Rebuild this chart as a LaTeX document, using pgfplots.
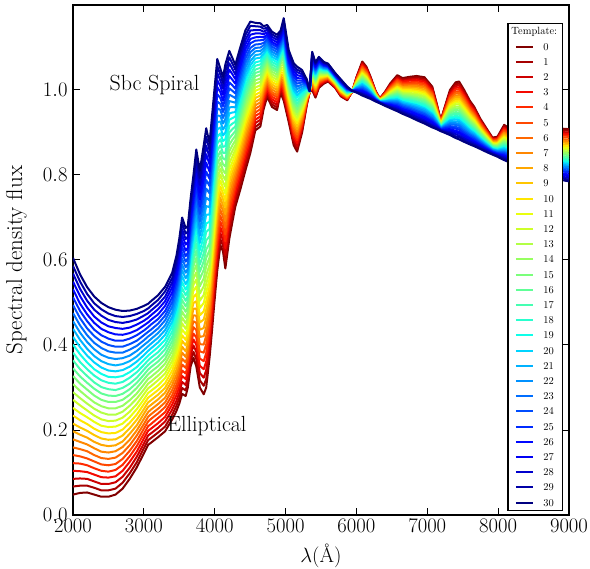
\documentclass[border=0pt]{standalone}
\usepackage{pgfplots}
\usepackage{pgfplotstable}
\pgfplotsset{compat=1.18}

% jet colours, template 0 (dark red) to 30 (dark blue)
\definecolor{c0}{rgb}{0.500,0,0}
\definecolor{c1}{rgb}{0.652,0,0}
\definecolor{c2}{rgb}{0.803,0,0}
\definecolor{c3}{rgb}{0.955,0.037,0}
\definecolor{c4}{rgb}{1,0.160,0}
\definecolor{c5}{rgb}{1,0.284,0}
\definecolor{c6}{rgb}{1,0.407,0}
\definecolor{c7}{rgb}{1,0.531,0}
\definecolor{c8}{rgb}{1,0.654,0}
\definecolor{c9}{rgb}{1,0.778,0}
\definecolor{c10}{rgb}{1,0.901,0}
\definecolor{c11}{rgb}{0.914,1,0.054}
\definecolor{c12}{rgb}{0.806,1,0.161}
\definecolor{c13}{rgb}{0.699,1,0.269}
\definecolor{c14}{rgb}{0.591,1,0.376}
\definecolor{c15}{rgb}{0.484,1,0.484}
\definecolor{c16}{rgb}{0.376,1,0.591}
\definecolor{c17}{rgb}{0.269,1,0.699}
\definecolor{c18}{rgb}{0.161,1,0.806}
\definecolor{c19}{rgb}{0.054,1,0.914}
\definecolor{c20}{rgb}{0,0.833,1}
\definecolor{c21}{rgb}{0,0.700,1}
\definecolor{c22}{rgb}{0,0.567,1}
\definecolor{c23}{rgb}{0,0.433,1}
\definecolor{c24}{rgb}{0,0.300,1}
\definecolor{c25}{rgb}{0,0.167,1}
\definecolor{c26}{rgb}{0,0.033,1}
\definecolor{c27}{rgb}{0,0,0.955}
\definecolor{c28}{rgb}{0,0,0.803}
\definecolor{c29}{rgb}{0,0,0.652}
\definecolor{c30}{rgb}{0,0,0.500}

\pgfplotstableread{
x t0 t1 t2 t3 t4 t5 t6 t7 t8 t9 t10 t11 t12 t13 t14 t15 t16 t17 t18 t19 t20 t21 t22 t23 t24 t25 t26 t27 t28 t29 t30
2000 0.048 0.067 0.085 0.104 0.122 0.141 0.159 0.178 0.197 0.215 0.234 0.252 0.271 0.289 0.308 0.327 0.345 0.364 0.382 0.401 0.419 0.438 0.456 0.475 0.494 0.512 0.531 0.549 0.568 0.586 0.605
2100 0.052 0.069 0.086 0.103 0.121 0.138 0.155 0.172 0.189 0.206 0.223 0.240 0.258 0.275 0.292 0.309 0.326 0.343 0.360 0.378 0.395 0.412 0.429 0.446 0.463 0.480 0.497 0.515 0.532 0.549 0.566
2200 0.053 0.069 0.085 0.101 0.117 0.133 0.150 0.166 0.182 0.198 0.214 0.230 0.246 0.262 0.278 0.295 0.311 0.327 0.343 0.359 0.375 0.391 0.407 0.423 0.439 0.456 0.472 0.488 0.504 0.520 0.536
2300 0.048 0.064 0.079 0.095 0.110 0.126 0.141 0.157 0.172 0.188 0.203 0.219 0.234 0.250 0.265 0.281 0.297 0.312 0.328 0.343 0.359 0.374 0.390 0.405 0.421 0.436 0.452 0.467 0.483 0.498 0.514
2400 0.043 0.058 0.073 0.089 0.104 0.119 0.134 0.149 0.165 0.180 0.195 0.210 0.225 0.241 0.256 0.271 0.286 0.301 0.317 0.332 0.347 0.362 0.377 0.393 0.408 0.423 0.438 0.453 0.469 0.484 0.499
2500 0.043 0.058 0.073 0.088 0.102 0.117 0.132 0.147 0.162 0.177 0.192 0.207 0.221 0.236 0.251 0.266 0.281 0.296 0.311 0.325 0.340 0.355 0.370 0.385 0.400 0.415 0.430 0.444 0.459 0.474 0.489
2600 0.048 0.062 0.077 0.091 0.106 0.120 0.135 0.150 0.164 0.178 0.193 0.208 0.222 0.236 0.251 0.266 0.280 0.294 0.309 0.324 0.338 0.352 0.367 0.382 0.396 0.410 0.425 0.440 0.454 0.468 0.483
2700 0.062 0.076 0.090 0.104 0.118 0.132 0.146 0.160 0.173 0.187 0.201 0.215 0.229 0.243 0.257 0.271 0.285 0.299 0.313 0.327 0.341 0.355 0.369 0.382 0.396 0.410 0.424 0.438 0.452 0.466 0.480
2800 0.085 0.098 0.111 0.125 0.138 0.151 0.164 0.177 0.191 0.204 0.217 0.230 0.243 0.257 0.270 0.283 0.296 0.309 0.323 0.336 0.349 0.362 0.375 0.389 0.402 0.415 0.428 0.441 0.455 0.468 0.481
2900 0.112 0.124 0.137 0.149 0.162 0.174 0.187 0.199 0.211 0.224 0.236 0.249 0.261 0.274 0.286 0.299 0.311 0.323 0.336 0.348 0.361 0.373 0.386 0.398 0.410 0.423 0.435 0.448 0.460 0.473 0.485
3000 0.145 0.157 0.168 0.180 0.191 0.203 0.214 0.226 0.238 0.249 0.261 0.272 0.284 0.295 0.307 0.319 0.330 0.342 0.353 0.365 0.376 0.388 0.400 0.411 0.423 0.434 0.446 0.457 0.469 0.480 0.492
3060 0.165 0.176 0.187 0.198 0.209 0.220 0.231 0.242 0.254 0.265 0.276 0.287 0.298 0.309 0.320 0.331 0.342 0.353 0.364 0.375 0.386 0.397 0.408 0.420 0.431 0.442 0.453 0.464 0.475 0.486 0.497
3100 0.170 0.181 0.192 0.203 0.214 0.226 0.237 0.248 0.259 0.270 0.281 0.292 0.303 0.314 0.325 0.337 0.348 0.359 0.370 0.381 0.392 0.403 0.414 0.425 0.436 0.448 0.459 0.470 0.481 0.492 0.503
3200 0.183 0.194 0.205 0.216 0.228 0.239 0.250 0.261 0.272 0.283 0.294 0.305 0.317 0.328 0.339 0.350 0.361 0.372 0.383 0.395 0.406 0.417 0.428 0.439 0.450 0.461 0.472 0.484 0.495 0.506 0.517
3300 0.197 0.208 0.220 0.231 0.242 0.254 0.265 0.276 0.288 0.299 0.310 0.322 0.333 0.344 0.356 0.367 0.378 0.390 0.401 0.412 0.424 0.435 0.446 0.458 0.469 0.480 0.492 0.503 0.514 0.526 0.537
3400 0.225 0.236 0.248 0.260 0.271 0.282 0.294 0.306 0.317 0.328 0.340 0.352 0.363 0.374 0.386 0.398 0.409 0.420 0.432 0.444 0.455 0.466 0.478 0.490 0.501 0.512 0.524 0.536 0.547 0.558 0.570
3460 0.245 0.257 0.269 0.282 0.294 0.306 0.318 0.330 0.342 0.355 0.367 0.379 0.391 0.403 0.415 0.428 0.440 0.452 0.464 0.476 0.488 0.501 0.513 0.525 0.537 0.549 0.561 0.574 0.586 0.598 0.610
3500 0.262 0.275 0.288 0.301 0.314 0.327 0.340 0.353 0.365 0.378 0.391 0.404 0.417 0.430 0.443 0.456 0.469 0.482 0.495 0.508 0.521 0.534 0.547 0.559 0.572 0.585 0.598 0.611 0.624 0.637 0.650
3540 0.285 0.299 0.313 0.327 0.340 0.354 0.368 0.382 0.396 0.410 0.423 0.437 0.451 0.465 0.479 0.493 0.506 0.520 0.534 0.548 0.562 0.576 0.589 0.603 0.617 0.631 0.645 0.659 0.672 0.686 0.700
3590 0.280 0.293 0.306 0.320 0.333 0.346 0.359 0.372 0.385 0.399 0.412 0.425 0.438 0.451 0.464 0.478 0.491 0.504 0.517 0.530 0.543 0.557 0.570 0.583 0.596 0.609 0.622 0.636 0.649 0.662 0.675
3620 0.300 0.313 0.325 0.338 0.351 0.363 0.376 0.389 0.401 0.414 0.427 0.439 0.452 0.465 0.477 0.490 0.503 0.515 0.528 0.541 0.553 0.566 0.579 0.591 0.604 0.617 0.629 0.642 0.655 0.667 0.680
3660 0.350 0.363 0.376 0.390 0.403 0.416 0.429 0.442 0.455 0.469 0.482 0.495 0.508 0.521 0.534 0.548 0.561 0.574 0.587 0.600 0.613 0.627 0.640 0.653 0.666 0.679 0.692 0.706 0.719 0.732 0.745
3700 0.370 0.384 0.399 0.413 0.427 0.442 0.456 0.470 0.485 0.499 0.513 0.528 0.542 0.556 0.571 0.585 0.599 0.614 0.628 0.642 0.657 0.671 0.685 0.700 0.714 0.728 0.743 0.757 0.771 0.786 0.800
3740 0.350 0.367 0.384 0.401 0.418 0.435 0.452 0.469 0.486 0.503 0.520 0.537 0.554 0.571 0.588 0.605 0.622 0.639 0.656 0.673 0.690 0.707 0.724 0.741 0.758 0.775 0.792 0.809 0.826 0.843 0.860
3790 0.300 0.317 0.334 0.351 0.368 0.385 0.402 0.419 0.436 0.453 0.470 0.487 0.504 0.521 0.538 0.555 0.572 0.589 0.606 0.623 0.640 0.657 0.674 0.691 0.708 0.725 0.742 0.759 0.776 0.793 0.810
3845 0.284 0.304 0.323 0.343 0.362 0.382 0.401 0.421 0.440 0.460 0.479 0.499 0.518 0.538 0.557 0.577 0.597 0.616 0.636 0.655 0.675 0.694 0.714 0.733 0.753 0.772 0.792 0.811 0.831 0.851 0.870
3880 0.300 0.320 0.341 0.361 0.381 0.402 0.422 0.442 0.463 0.483 0.503 0.524 0.544 0.564 0.585 0.605 0.625 0.646 0.666 0.686 0.707 0.727 0.747 0.768 0.788 0.808 0.829 0.849 0.869 0.890 0.910
3927 0.370 0.387 0.404 0.421 0.437 0.454 0.471 0.488 0.505 0.522 0.538 0.555 0.572 0.589 0.606 0.623 0.639 0.656 0.673 0.690 0.707 0.724 0.740 0.757 0.774 0.791 0.808 0.825 0.841 0.858 0.875
3960 0.430 0.447 0.464 0.481 0.497 0.514 0.531 0.548 0.565 0.582 0.598 0.615 0.632 0.649 0.666 0.683 0.699 0.716 0.733 0.750 0.767 0.784 0.800 0.817 0.834 0.851 0.868 0.885 0.901 0.918 0.935
3990 0.490 0.507 0.523 0.540 0.557 0.573 0.590 0.607 0.623 0.640 0.657 0.673 0.690 0.707 0.723 0.740 0.757 0.773 0.790 0.807 0.823 0.840 0.857 0.873 0.890 0.907 0.923 0.940 0.957 0.973 0.990
4036 0.575 0.592 0.608 0.625 0.641 0.658 0.675 0.691 0.708 0.724 0.741 0.758 0.774 0.791 0.807 0.824 0.841 0.857 0.874 0.890 0.907 0.924 0.940 0.957 0.973 0.990 1.007 1.023 1.040 1.056 1.073
4080 0.635 0.649 0.663 0.677 0.690 0.704 0.718 0.732 0.746 0.760 0.773 0.787 0.801 0.815 0.829 0.843 0.856 0.870 0.884 0.898 0.912 0.926 0.939 0.953 0.967 0.981 0.995 1.009 1.022 1.036 1.050
4117 0.620 0.634 0.647 0.661 0.675 0.688 0.702 0.716 0.729 0.743 0.757 0.770 0.784 0.798 0.811 0.825 0.839 0.852 0.866 0.880 0.893 0.907 0.921 0.934 0.948 0.962 0.975 0.989 1.003 1.016 1.030
4150 0.580 0.596 0.612 0.628 0.644 0.660 0.676 0.692 0.708 0.724 0.740 0.756 0.772 0.788 0.804 0.820 0.836 0.852 0.868 0.884 0.900 0.916 0.932 0.948 0.964 0.980 0.996 1.012 1.028 1.044 1.060
4206 0.650 0.665 0.679 0.694 0.709 0.724 0.738 0.753 0.768 0.783 0.797 0.812 0.827 0.842 0.856 0.871 0.886 0.900 0.915 0.930 0.945 0.959 0.974 0.989 1.004 1.018 1.033 1.048 1.063 1.077 1.092
4250 0.690 0.703 0.716 0.729 0.741 0.754 0.767 0.780 0.793 0.806 0.818 0.831 0.844 0.857 0.870 0.883 0.895 0.908 0.921 0.934 0.947 0.960 0.972 0.985 0.998 1.011 1.024 1.037 1.049 1.062 1.075
4290 0.725 0.736 0.747 0.758 0.770 0.781 0.792 0.803 0.814 0.825 0.836 0.848 0.859 0.870 0.881 0.892 0.903 0.914 0.925 0.937 0.948 0.959 0.970 0.981 0.992 1.003 1.015 1.026 1.037 1.048 1.059
4360 0.765 0.776 0.787 0.799 0.810 0.821 0.832 0.843 0.854 0.866 0.877 0.888 0.899 0.910 0.921 0.933 0.944 0.955 0.966 0.977 0.988 1.000 1.011 1.022 1.033 1.044 1.055 1.067 1.078 1.089 1.100
4432 0.810 0.821 0.832 0.843 0.854 0.865 0.876 0.887 0.898 0.909 0.920 0.931 0.942 0.953 0.964 0.975 0.986 0.997 1.008 1.019 1.030 1.041 1.052 1.063 1.074 1.085 1.096 1.107 1.118 1.129 1.140
4503 0.852 0.862 0.873 0.883 0.893 0.904 0.914 0.924 0.934 0.945 0.955 0.965 0.976 0.986 0.996 1.007 1.017 1.027 1.037 1.048 1.058 1.068 1.079 1.089 1.099 1.110 1.120 1.130 1.140 1.151 1.161
4573 0.905 0.913 0.922 0.930 0.939 0.947 0.956 0.964 0.972 0.981 0.989 0.998 1.006 1.015 1.023 1.032 1.040 1.048 1.057 1.065 1.074 1.082 1.091 1.099 1.107 1.116 1.124 1.133 1.141 1.150 1.158
4644 0.914 0.922 0.930 0.938 0.946 0.955 0.963 0.971 0.979 0.987 0.995 1.003 1.011 1.019 1.027 1.036 1.044 1.052 1.060 1.068 1.076 1.084 1.092 1.100 1.108 1.117 1.125 1.133 1.141 1.149 1.157
4690 0.955 0.962 0.968 0.975 0.981 0.988 0.994 1.001 1.007 1.014 1.020 1.027 1.033 1.040 1.046 1.053 1.059 1.066 1.072 1.079 1.085 1.092 1.098 1.105 1.111 1.118 1.124 1.131 1.137 1.144 1.150
4740 0.984 0.990 0.995 1.001 1.007 1.012 1.018 1.023 1.029 1.035 1.040 1.046 1.052 1.057 1.063 1.069 1.074 1.080 1.085 1.091 1.097 1.102 1.108 1.114 1.119 1.125 1.130 1.136 1.142 1.147 1.153
4809 0.960 0.966 0.972 0.978 0.984 0.990 0.995 1.001 1.007 1.013 1.019 1.025 1.031 1.037 1.043 1.049 1.054 1.060 1.066 1.072 1.078 1.084 1.090 1.096 1.102 1.108 1.113 1.119 1.125 1.131 1.137
4880 0.953 0.959 0.965 0.971 0.977 0.983 0.988 0.994 1.000 1.006 1.012 1.018 1.024 1.030 1.036 1.042 1.047 1.053 1.059 1.065 1.071 1.077 1.083 1.089 1.095 1.101 1.106 1.112 1.118 1.124 1.130
4930 0.993 0.998 1.003 1.008 1.013 1.018 1.022 1.027 1.032 1.037 1.042 1.047 1.052 1.057 1.062 1.067 1.071 1.076 1.081 1.086 1.091 1.096 1.101 1.106 1.111 1.116 1.120 1.125 1.130 1.135 1.140
4974 0.975 0.981 0.988 0.994 1.001 1.007 1.014 1.020 1.027 1.033 1.040 1.046 1.053 1.059 1.066 1.072 1.078 1.085 1.091 1.098 1.104 1.111 1.117 1.124 1.130 1.137 1.143 1.150 1.156 1.163 1.169
5044 0.925 0.931 0.936 0.942 0.948 0.953 0.959 0.964 0.970 0.976 0.981 0.987 0.993 0.998 1.004 1.010 1.015 1.021 1.026 1.032 1.038 1.043 1.049 1.055 1.060 1.066 1.071 1.077 1.083 1.088 1.094
5115 0.870 0.876 0.883 0.889 0.896 0.902 0.909 0.915 0.921 0.928 0.934 0.941 0.947 0.954 0.960 0.967 0.973 0.979 0.986 0.992 0.999 1.005 1.012 1.018 1.024 1.031 1.037 1.044 1.050 1.057 1.063
5163 0.855 0.862 0.868 0.875 0.882 0.888 0.895 0.902 0.908 0.915 0.922 0.928 0.935 0.942 0.948 0.955 0.962 0.968 0.975 0.982 0.988 0.995 1.002 1.008 1.015 1.022 1.028 1.035 1.042 1.048 1.055
5233 0.900 0.905 0.910 0.915 0.920 0.924 0.929 0.934 0.939 0.944 0.949 0.954 0.959 0.964 0.969 0.974 0.978 0.983 0.988 0.993 0.998 1.003 1.008 1.013 1.018 1.022 1.027 1.032 1.037 1.042 1.047
5300 0.965 0.967 0.969 0.971 0.973 0.975 0.977 0.979 0.981 0.983 0.985 0.987 0.989 0.991 0.993 0.995 0.997 0.999 1.001 1.003 1.005 1.007 1.009 1.011 1.013 1.015 1.017 1.019 1.021 1.023 1.025
5340 0.995 0.995 0.995 0.995 0.995 0.996 0.996 0.996 0.996 0.996 0.996 0.996 0.996 0.996 0.996 0.997 0.997 0.997 0.997 0.997 0.997 0.997 0.997 0.997 0.997 0.998 0.998 0.998 0.998 0.998 0.998
5375 1.000 1.003 1.006 1.009 1.012 1.015 1.018 1.021 1.024 1.027 1.030 1.033 1.036 1.039 1.042 1.045 1.048 1.051 1.054 1.057 1.060 1.063 1.066 1.069 1.072 1.075 1.078 1.081 1.084 1.087 1.090
5422 0.982 0.985 0.988 0.990 0.993 0.996 0.999 1.001 1.004 1.007 1.010 1.012 1.015 1.018 1.021 1.024 1.026 1.029 1.032 1.035 1.037 1.040 1.043 1.046 1.048 1.051 1.054 1.057 1.060 1.062 1.065
5470 1.005 1.007 1.010 1.012 1.015 1.017 1.020 1.022 1.024 1.027 1.029 1.032 1.034 1.037 1.039 1.042 1.044 1.046 1.049 1.051 1.054 1.056 1.059 1.061 1.063 1.066 1.068 1.071 1.073 1.076 1.078
5540 1.015 1.017 1.018 1.020 1.022 1.024 1.025 1.027 1.029 1.030 1.032 1.034 1.035 1.037 1.039 1.040 1.042 1.044 1.046 1.047 1.049 1.051 1.052 1.054 1.056 1.057 1.059 1.061 1.063 1.064 1.066
5600 1.020 1.021 1.023 1.024 1.026 1.027 1.028 1.030 1.031 1.033 1.034 1.035 1.037 1.038 1.040 1.041 1.042 1.044 1.045 1.047 1.048 1.049 1.051 1.052 1.054 1.055 1.056 1.058 1.059 1.061 1.062
5700 1.005 1.006 1.007 1.008 1.010 1.011 1.012 1.013 1.014 1.015 1.017 1.018 1.019 1.020 1.021 1.023 1.024 1.025 1.026 1.027 1.028 1.030 1.031 1.032 1.033 1.034 1.035 1.037 1.038 1.039 1.040
5780 0.985 0.986 0.988 0.989 0.990 0.992 0.993 0.994 0.996 0.997 0.998 1.000 1.001 1.002 1.004 1.005 1.006 1.008 1.009 1.010 1.012 1.013 1.014 1.016 1.017 1.018 1.020 1.021 1.022 1.024 1.025
5870 0.976 0.977 0.978 0.979 0.980 0.981 0.982 0.984 0.984 0.986 0.987 0.988 0.989 0.990 0.991 0.992 0.993 0.994 0.995 0.996 0.997 0.998 1.000 1.001 1.002 1.003 1.004 1.005 1.006 1.007 1.008
5940 0.996 0.996 0.996 0.996 0.996 0.996 0.996 0.996 0.997 0.997 0.997 0.997 0.997 0.997 0.997 0.997 0.997 0.997 0.997 0.997 0.997 0.997 0.997 0.998 0.998 0.998 0.998 0.998 0.998 0.998 0.998
6000 1.030 1.029 1.028 1.026 1.025 1.024 1.023 1.022 1.020 1.019 1.018 1.017 1.016 1.014 1.013 1.012 1.011 1.010 1.008 1.007 1.006 1.005 1.004 1.002 1.001 1.000 0.999 0.998 0.996 0.995 0.994
6082 1.067 1.064 1.062 1.059 1.056 1.054 1.051 1.048 1.046 1.043 1.040 1.038 1.035 1.032 1.030 1.027 1.024 1.022 1.019 1.016 1.014 1.011 1.008 1.006 1.003 1.000 0.998 0.995 0.992 0.990 0.987
6140 1.055 1.053 1.050 1.048 1.045 1.043 1.041 1.038 1.036 1.033 1.031 1.029 1.026 1.024 1.021 1.019 1.017 1.014 1.012 1.009 1.007 1.005 1.002 1.000 0.997 0.995 0.993 0.990 0.988 0.985 0.983
6200 1.031 1.029 1.028 1.026 1.024 1.022 1.021 1.019 1.017 1.015 1.014 1.012 1.010 1.008 1.007 1.005 1.003 1.002 1.000 0.998 0.996 0.995 0.993 0.991 0.989 0.988 0.986 0.984 0.982 0.981 0.979
6270 0.998 0.997 0.996 0.995 0.995 0.994 0.993 0.992 0.991 0.991 0.990 0.989 0.988 0.987 0.986 0.986 0.985 0.984 0.983 0.982 0.981 0.981 0.980 0.979 0.978 0.977 0.976 0.976 0.975 0.974 0.973
6330 0.980 0.980 0.979 0.979 0.979 0.978 0.978 0.977 0.977 0.977 0.976 0.976 0.976 0.975 0.975 0.974 0.974 0.974 0.973 0.973 0.973 0.972 0.972 0.972 0.971 0.971 0.970 0.970 0.970 0.969 0.969
6400 0.995 0.994 0.993 0.992 0.991 0.990 0.989 0.988 0.986 0.985 0.984 0.983 0.982 0.981 0.980 0.979 0.978 0.977 0.976 0.975 0.974 0.973 0.972 0.970 0.969 0.968 0.967 0.966 0.965 0.964 0.963
6480 1.016 1.014 1.012 1.010 1.008 1.006 1.004 1.002 1.000 0.998 0.996 0.994 0.992 0.990 0.988 0.987 0.985 0.983 0.981 0.979 0.977 0.975 0.973 0.971 0.969 0.967 0.965 0.963 0.961 0.959 0.957
6577 1.035 1.032 1.029 1.026 1.024 1.021 1.018 1.015 1.012 1.009 1.007 1.004 1.001 0.998 0.995 0.992 0.990 0.987 0.984 0.981 0.978 0.975 0.973 0.970 0.967 0.964 0.961 0.958 0.956 0.953 0.950
6650 1.028 1.025 1.022 1.020 1.017 1.014 1.011 1.008 1.006 1.003 1.000 0.997 0.994 0.992 0.989 0.986 0.983 0.980 0.978 0.975 0.972 0.969 0.966 0.964 0.961 0.958 0.955 0.952 0.950 0.947 0.944
6750 1.031 1.028 1.025 1.022 1.018 1.015 1.012 1.009 1.006 1.003 1.000 0.997 0.993 0.990 0.987 0.984 0.981 0.978 0.975 0.971 0.968 0.965 0.962 0.959 0.956 0.953 0.950 0.946 0.943 0.940 0.937
6850 1.033 1.030 1.026 1.023 1.019 1.016 1.012 1.009 1.005 1.002 0.998 0.995 0.991 0.988 0.984 0.981 0.978 0.974 0.971 0.967 0.964 0.960 0.957 0.953 0.950 0.946 0.943 0.939 0.936 0.932 0.929
6960 1.030 1.026 1.023 1.019 1.015 1.012 1.008 1.005 1.001 0.997 0.994 0.990 0.986 0.983 0.979 0.976 0.972 0.968 0.965 0.961 0.957 0.954 0.950 0.946 0.943 0.939 0.936 0.932 0.928 0.925 0.921
7070 1.008 1.005 1.002 0.998 0.995 0.992 0.989 0.986 0.982 0.979 0.976 0.973 0.970 0.966 0.963 0.960 0.957 0.954 0.950 0.947 0.944 0.941 0.938 0.934 0.931 0.928 0.925 0.922 0.918 0.915 0.912
7130 0.970 0.968 0.966 0.964 0.962 0.960 0.958 0.956 0.953 0.951 0.949 0.947 0.945 0.943 0.941 0.939 0.937 0.935 0.933 0.931 0.929 0.927 0.925 0.922 0.920 0.918 0.916 0.914 0.912 0.910 0.908
7190 0.929 0.928 0.927 0.926 0.926 0.925 0.924 0.923 0.922 0.921 0.920 0.919 0.919 0.918 0.917 0.916 0.915 0.914 0.913 0.913 0.912 0.911 0.910 0.909 0.908 0.907 0.906 0.906 0.905 0.904 0.903
7250 0.962 0.960 0.958 0.956 0.954 0.952 0.949 0.947 0.945 0.943 0.941 0.939 0.937 0.935 0.933 0.931 0.928 0.926 0.924 0.922 0.920 0.918 0.916 0.914 0.912 0.910 0.907 0.905 0.903 0.901 0.899
7320 1.000 0.996 0.993 0.989 0.986 0.982 0.979 0.975 0.972 0.968 0.965 0.961 0.958 0.954 0.951 0.947 0.943 0.940 0.936 0.933 0.929 0.926 0.922 0.919 0.915 0.912 0.908 0.905 0.901 0.898 0.894
7400 1.018 1.014 1.009 1.005 1.001 0.996 0.992 0.987 0.983 0.979 0.974 0.970 0.966 0.961 0.957 0.953 0.948 0.944 0.939 0.935 0.931 0.926 0.922 0.918 0.913 0.909 0.904 0.900 0.896 0.891 0.887
7448 1.020 1.015 1.011 1.006 1.002 0.997 0.993 0.988 0.984 0.979 0.975 0.970 0.966 0.961 0.957 0.952 0.947 0.943 0.938 0.934 0.929 0.925 0.920 0.916 0.911 0.907 0.902 0.898 0.893 0.889 0.884
7520 1.000 0.996 0.992 0.988 0.984 0.980 0.976 0.972 0.967 0.963 0.959 0.955 0.951 0.947 0.943 0.939 0.935 0.931 0.927 0.923 0.919 0.915 0.911 0.906 0.902 0.898 0.894 0.890 0.886 0.882 0.878
7600 0.975 0.972 0.968 0.965 0.961 0.958 0.954 0.951 0.948 0.944 0.941 0.937 0.934 0.930 0.927 0.924 0.920 0.917 0.913 0.910 0.906 0.903 0.899 0.896 0.893 0.889 0.886 0.882 0.879 0.875 0.872
7660 0.961 0.958 0.955 0.952 0.949 0.945 0.942 0.939 0.936 0.933 0.930 0.927 0.924 0.921 0.918 0.915 0.911 0.908 0.905 0.902 0.899 0.896 0.893 0.890 0.887 0.884 0.880 0.877 0.874 0.871 0.868
7750 0.932 0.930 0.927 0.925 0.923 0.920 0.918 0.915 0.913 0.911 0.908 0.906 0.904 0.901 0.899 0.897 0.894 0.892 0.889 0.887 0.885 0.882 0.880 0.878 0.875 0.873 0.870 0.868 0.866 0.863 0.861
7850 0.906 0.904 0.902 0.901 0.899 0.897 0.895 0.894 0.892 0.890 0.888 0.887 0.885 0.883 0.881 0.880 0.878 0.876 0.874 0.872 0.871 0.869 0.867 0.865 0.864 0.862 0.860 0.858 0.857 0.855 0.853
7920 0.888 0.887 0.885 0.884 0.883 0.881 0.880 0.879 0.877 0.876 0.875 0.873 0.872 0.871 0.869 0.868 0.867 0.865 0.864 0.863 0.861 0.860 0.859 0.857 0.856 0.855 0.853 0.852 0.851 0.849 0.848
7990 0.890 0.888 0.887 0.885 0.884 0.882 0.881 0.879 0.877 0.876 0.874 0.873 0.871 0.870 0.868 0.867 0.865 0.863 0.862 0.860 0.859 0.857 0.856 0.854 0.852 0.851 0.849 0.848 0.846 0.845 0.843
8085 0.918 0.915 0.912 0.910 0.907 0.904 0.901 0.899 0.896 0.893 0.890 0.888 0.885 0.882 0.879 0.877 0.874 0.871 0.868 0.865 0.863 0.860 0.857 0.854 0.852 0.849 0.846 0.843 0.841 0.838 0.835
8200 0.905 0.902 0.900 0.897 0.895 0.892 0.889 0.887 0.884 0.882 0.879 0.876 0.874 0.871 0.869 0.866 0.863 0.861 0.858 0.856 0.853 0.850 0.848 0.845 0.843 0.840 0.837 0.835 0.832 0.830 0.827
8400 0.910 0.907 0.904 0.900 0.897 0.894 0.891 0.887 0.884 0.881 0.878 0.874 0.871 0.868 0.865 0.862 0.858 0.855 0.852 0.849 0.845 0.842 0.839 0.836 0.832 0.829 0.826 0.823 0.819 0.816 0.813
8600 0.912 0.908 0.905 0.901 0.897 0.893 0.890 0.886 0.882 0.878 0.875 0.871 0.867 0.863 0.860 0.856 0.852 0.849 0.845 0.841 0.837 0.834 0.830 0.826 0.822 0.819 0.815 0.811 0.807 0.804 0.800
8800 0.910 0.906 0.902 0.898 0.894 0.890 0.886 0.882 0.878 0.874 0.870 0.866 0.862 0.858 0.854 0.850 0.847 0.843 0.839 0.835 0.831 0.827 0.823 0.819 0.815 0.811 0.807 0.803 0.799 0.795 0.791
9000 0.908 0.904 0.900 0.896 0.892 0.888 0.883 0.879 0.875 0.871 0.867 0.863 0.859 0.855 0.851 0.847 0.842 0.838 0.834 0.830 0.826 0.822 0.818 0.814 0.810 0.806 0.801 0.797 0.793 0.789 0.785
}\spec

\begin{document}
\begin{tikzpicture}
\begin{axis}[
    scale only axis, width=496bp, height=510bp,
    xmin=2000, xmax=9000, ymin=0, ymax=1.2,
    xtick={2000,3000,4000,5000,6000,7000,8000,9000},
    ytick={0,0.2,0.4,0.6,0.8,1.0},
    tick pos=both, tick align=inside, major tick length=7bp,
    every tick/.style={black, line width=1bp},
    axis line style={line width=1.6bp},
    tick label style={font=\fontsize{19.5}{23}\selectfont},
    xticklabel style={yshift=-1bp, /pgf/number format/1000 sep={}},
    yticklabel style={xshift=-2bp, /pgf/number format/.cd, fixed, fixed zerofill, precision=1},
    xlabel={$\lambda$(\AA)},
    ylabel={Spectral density flux},
    every axis x label/.style={at={(axis description cs:0.5,-0.08)}, anchor=center,
        font=\fontsize{21}{25}\selectfont},
    every axis y label/.style={at={(axis description cs:-0.114,0.5)}, rotate=90, anchor=center,
        font=\fontsize{23}{27}\selectfont},
    legend cell align=left,
    legend style={at={(0.988,0.965)}, anchor=north east, draw=black, line width=1.2bp,
        fill=white, font=\fontsize{10.5}{12}\selectfont, inner xsep=7bp, inner ysep=2.5bp,
        row sep=4.2bp, column sep=8bp,
        nodes={inner sep=1.5bp, text height=7.5bp, text depth=0.5bp}},
    legend image code/.code={\draw[#1] (0bp,0bp) -- (17bp,0bp);},
]
\addlegendimage{empty legend}
\addlegendentry{\rlap{\hspace*{-32bp}Template:}}
\pgfplotsinvokeforeach{0,...,30}{
    \addplot[color=c#1, line width=2bp, line join=round, no markers] table[x=x, y=t#1] {\spec};
    \addlegendentry{#1}
}
\node[anchor=base, font=\fontsize{22}{26}\selectfont] at (axis cs:3150,0.998) {Sbc Spiral};
\node[anchor=base, font=\fontsize{22}{26}\selectfont] at (axis cs:3890,0.196) {Elliptical};
\end{axis}
\pgfresetboundingbox
\useasboundingbox (-73bp,-54bp) rectangle (517bp,515bp);
\end{tikzpicture}
\end{document}
